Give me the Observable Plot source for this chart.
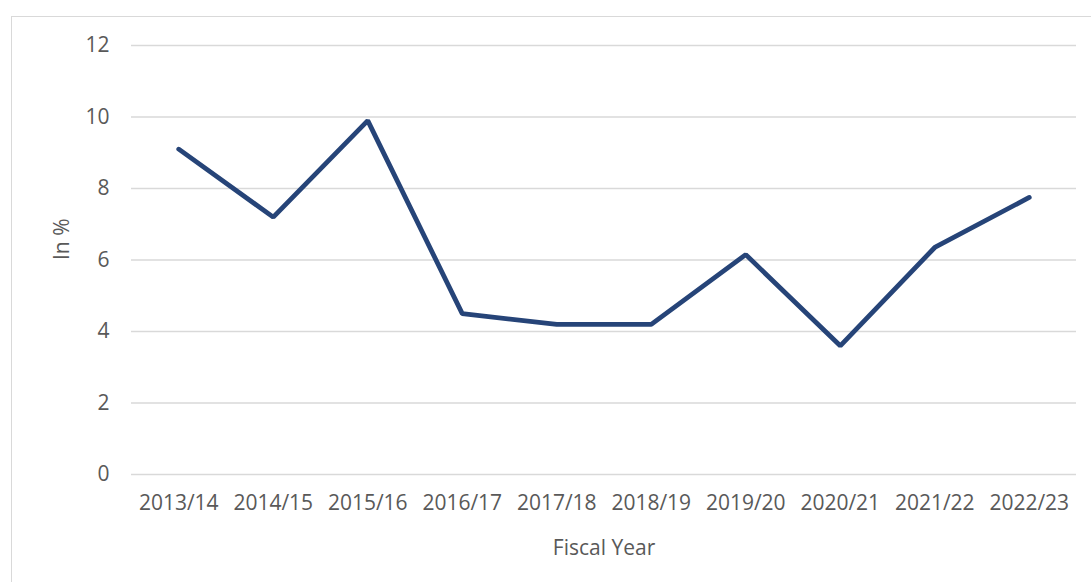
<!DOCTYPE html>
<html><head><meta charset="utf-8">
<script src="https://cdn.jsdelivr.net/npm/d3@7"></script>
<script src="https://cdn.jsdelivr.net/npm/@observablehq/plot@0.6"></script>
<style>
html,body{margin:0;padding:0;background:#fff;overflow:hidden;}
#frame{position:absolute;left:11px;top:16px;width:1200px;height:700px;border-left:1px solid #d9d9d9;border-top:1px solid #d9d9d9;}
#chart{position:absolute;left:0;top:0;}
</style></head>
<body>
<div id="frame"></div>
<div id="chart"></div>
<script>
const years = ["2013/14","2014/15","2015/16","2016/17","2017/18","2018/19","2019/20","2020/21","2021/22","2022/23"];
const values = [9.1, 7.2, 9.9, 4.5, 4.2, 4.2, 6.15, 3.6, 6.35, 7.75];
const yTicks = [0, 2, 4, 6, 8, 10, 12];

const data = years.map((y, i) => ({year: y, value: values[i]}));
const font = "'Open Sans', sans-serif";

const plot = Plot.plot({
  width: 1091,
  height: 582,
  marginLeft: 131,
  marginRight: 15,
  marginTop: 45,
  marginBottom: 108,
  style: {fontFamily: font, fontSize: "21px", color: "#595959", background: "transparent"},
  x: {type: "point", domain: years, padding: 0.5, round: false, label: null},
  y: {domain: [0, 12], label: null},
  marks: [
    Plot.gridY(yTicks, {stroke: "#d9d9d9", strokeOpacity: 1, strokeWidth: 1.5}),
    Plot.axisY(yTicks, {tickSize: 0, tickPadding: 22, fill: "#595959", fontSize: 21, label: null}),
    Plot.axisX(years, {tickSize: 0, tickPadding: 21, fill: "#595959", fontSize: 21, label: null}),
    Plot.line(data, {x: "year", y: "value", stroke: "#264478", strokeWidth: 4.8, strokeLinejoin: "miter", strokeLinecap: "round"}),
    Plot.text(["In %"], {frameAnchor: "left", dx: -69, rotate: -90, fill: "#595959", fontSize: 21}),
    Plot.text(["Fiscal Year"], {frameAnchor: "bottom", dy: 80, fill: "#595959", fontSize: 21})
  ]
});
document.getElementById("chart").appendChild(plot);
</script>
</body></html>
